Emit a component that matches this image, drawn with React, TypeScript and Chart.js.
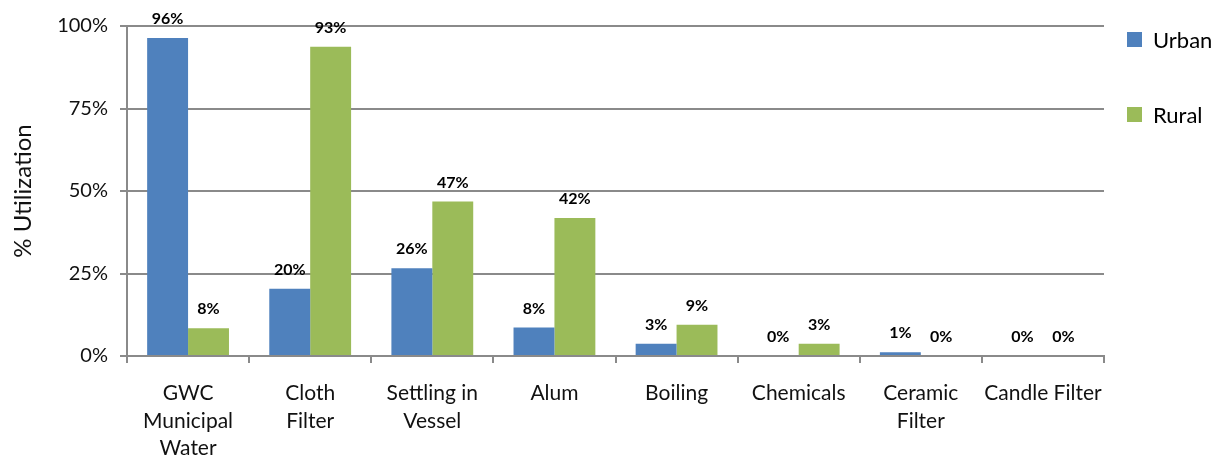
import React, { useEffect, useRef } from "react";
import { Chart, registerables } from "chart.js";

Chart.register(...registerables);

const categories: string[][] = [
  ["GWC", "Municipal", "Water"],
  ["Cloth", "Filter"],
  ["Settling in", "Vessel"],
  ["Alum"],
  ["Boiling"],
  ["Chemicals"],
  ["Ceramic", "Filter"],
  ["Candle Filter"],
];
const urbanValues = [96.4, 20.4, 26.6, 8.6, 3.7, 0, 1.1, 0];
const ruralValues = [8.4, 93.7, 46.8, 41.8, 9.5, 3.7, 0, 0];
const urbanLabels = ["96%", "20%", "26%", "8%", "3%", "0%", "1%", "0%"];
const ruralLabels = ["8%", "93%", "47%", "42%", "9%", "3%", "0%", "0%"];
const yTicks = [0, 25, 50, 75, 100];

const FONT = "Lato, 'Open Sans', sans-serif";
const GRID = "#8a8a8a";

const valueLabelPlugin = {
  id: "valueLabels",
  afterDatasetsDraw(chart: any) {
    const ctx = chart.ctx;
    const all = [urbanLabels, ruralLabels];
    ctx.save();
    ctx.font = `bold 16px ${FONT}`;
    ctx.fillStyle = "#000";
    ctx.textAlign = "center";
    ctx.textBaseline = "alphabetic";
    chart.data.datasets.forEach((_: any, di: number) => {
      const meta = chart.getDatasetMeta(di);
      meta.data.forEach((el: any, i: number) => {
        ctx.fillText(all[di][i], el.x, el.y - 14);
      });
    });
    ctx.restore();
  },
};

const legendPlugin = {
  id: "customLegend",
  afterDraw(chart: any) {
    const ctx = chart.ctx;
    const x0 = chart.chartArea.right + 23;
    ctx.save();
    ctx.font = `22px ${FONT}`;
    ctx.textBaseline = "alphabetic";
    ctx.textAlign = "left";
    chart.data.datasets.forEach((ds: any, i: number) => {
      const top = 32 + i * 75;
      ctx.fillStyle = ds.backgroundColor;
      ctx.fillRect(x0, top, 15, 15);
      ctx.fillStyle = "#000";
      ctx.fillText(ds.label, x0 + 26, top + 16);
    });
    ctx.restore();
  },
};

export default function App() {
  const ref = useRef<HTMLCanvasElement>(null);
  useEffect(() => {
    if (!ref.current) return;
    const chart = new Chart(ref.current, {
      type: "bar",
      data: {
        labels: categories,
        datasets: [
          {
            label: "Urban",
            data: urbanValues,
            backgroundColor: "#4F81BD",
            categoryPercentage: 0.67,
            barPercentage: 1.0,
          },
          {
            label: "Rural",
            data: ruralValues,
            backgroundColor: "#9BBB59",
            categoryPercentage: 0.67,
            barPercentage: 1.0,
          },
        ],
      },
      options: {
        responsive: false,
        animation: false,
        layout: { padding: { top: 26, right: 118, left: 0, bottom: 0 } },
        plugins: {
          legend: { display: false },
          tooltip: { enabled: false },
        },
        scales: {
          x: {
            offset: true,
            grid: {
              offset: true,
              drawOnChartArea: false,
              drawTicks: true,
              tickLength: 7,
              color: GRID,
              lineWidth: 2,
            },
            border: { color: GRID, width: 2 },
            ticks: {
              color: "#111",
              font: { family: FONT, size: 21, lineHeight: 1.3 },
              padding: 17,
              maxRotation: 0,
              autoSkip: false,
            },
            afterFit: (s: any) => {
              s.height = 103;
            },
          },
          y: {
            min: 0,
            max: 100,
            afterBuildTicks: (s: any) => {
              s.ticks = yTicks.map((v) => ({ value: v }));
            },
            grid: {
              color: GRID,
              lineWidth: 2,
              drawTicks: true,
              tickLength: 7,
            },
            border: { color: GRID, width: 2 },
            ticks: {
              color: "#111",
              font: { family: FONT, size: 20 },
              padding: 12,
              callback: (v: any) => `${v}%`,
            },
            title: {
              display: true,
              text: "% Utilization",
              color: "#111",
              font: { family: FONT, size: 24, lineHeight: 1.2 },
              padding: { top: 9, bottom: 0 },
            },
            afterFit: (s: any) => {
              s.width = 127;
            },
          },
        },
      },
      plugins: [valueLabelPlugin, legendPlugin],
    });
    return () => chart.destroy();
  }, []);
  return (
    <div style={{ position: "fixed", left: 0, top: 0, width: 1222, height: 459, background: "#fff" }}>
      <canvas ref={ref} width={1222} height={459} />
    </div>
  );
}
